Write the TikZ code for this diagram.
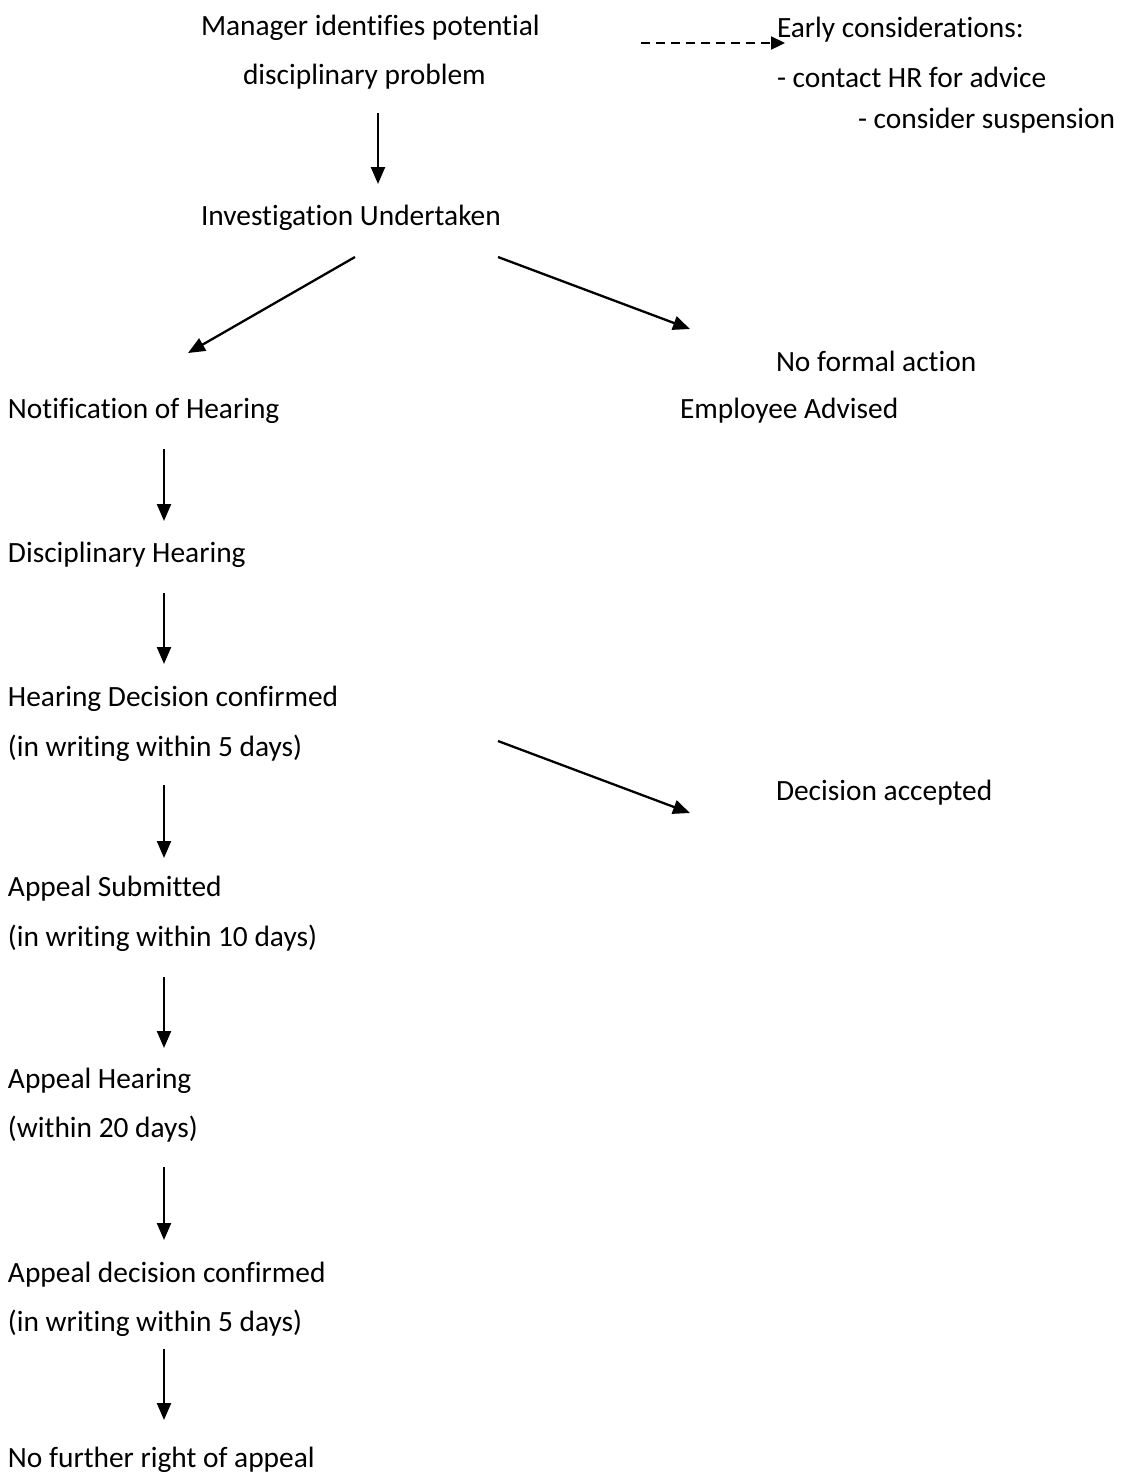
\documentclass[tikz,border=0pt]{standalone}
\usepackage{fontspec}
\setmainfont{Carlito}[Ligatures=NoCommon]
\usetikzlibrary{arrows.meta}
\begin{document}
\begin{tikzpicture}[x=0.5pt, y=-0.5pt,
  txt/.style = {anchor=west, inner sep=0pt, outer sep=0pt, yshift=-1.5pt, font=\fontsize{14.7}{18}\selectfont},
  arr/.style = {line width=1.15pt, -{Triangle[length=8.5pt, width=7pt]}},
  dasharr/.style = {line width=1.15pt, dash pattern=on 4.5pt off 3pt, -{Triangle[length=7pt, width=6.5pt]}}]
\useasboundingbox (0,0) rectangle (1133,1479);
% top of the chart
\node[txt] (mgr) at (201,25) {Manager identifies potential};
\node[txt] (mgrb) at (243,74) {disciplinary problem};
\node[txt] (early) at (777,27) {Early considerations:};
\node[txt] (hr) at (777,74) {- contact HR for advice};
\node[txt] (susp) at (858,118) {- consider suspension};
\node[txt] (inv) at (201,215) {Investigation Undertaken};
% right branches
\node[txt] (nfa) at (776,358) {No formal action};
\node[txt] (adv) at (680,408) {Employee Advised};
\node[txt] (acc) at (776,790) {Decision accepted};
% left column
\node[txt] (notif) at (8,408) {Notification of Hearing};
\node[txt] (dh) at (8,552) {Disciplinary Hearing};
\node[txt] (hdc) at (8,696) {Hearing Decision confirmed};
\node[txt] (hdcw) at (8,745) {(in writing within 5 days)};
\node[txt] (as) at (8,886) {Appeal Submitted};
\node[txt] (asw) at (8,935) {(in writing within 10 days)};
\node[txt] (ah) at (8,1078) {Appeal Hearing};
\node[txt] (ahw) at (8,1126) {(within 20 days)};
\node[txt] (adc) at (8,1272) {Appeal decision confirmed};
\node[txt] (adcw) at (8,1320) {(in writing within 5 days)};
\node[txt] (nfr) at (8,1457) {No further right of appeal};
% arrow ends
\coordinate (e1) at (641,43);   \coordinate (e2) at (785,43);
\coordinate (m1) at (378,113);  \coordinate (m2) at (378,184);
\coordinate (l1) at (355,257);  \coordinate (l2) at (188,353);
\coordinate (r1) at (498,257);  \coordinate (r2) at (690,329);
\coordinate (d1) at (498,741);  \coordinate (d2) at (690,813);
\coordinate (a1) at (164,449);  \coordinate (a2) at (164,521);
\coordinate (b1) at (164,593);  \coordinate (b2) at (164,664);
\coordinate (c1) at (164,785);  \coordinate (c2) at (164,858);
\coordinate (f1) at (164,977);  \coordinate (f2) at (164,1048);
\coordinate (g1) at (164,1167); \coordinate (g2) at (164,1240);
\coordinate (h1) at (164,1349); \coordinate (h2) at (164,1420);
\draw[dasharr] (e1) -- (e2);
\draw[arr] (m1) -- (m2);
\draw[arr] (l1) -- (l2);
\draw[arr] (r1) -- (r2);
\draw[arr] (d1) -- (d2);
\foreach \s/\t in {a1/a2, b1/b2, c1/c2, f1/f2, g1/g2, h1/h2}
  \draw[arr] (\s) -- (\t);
\end{tikzpicture}
\end{document}
